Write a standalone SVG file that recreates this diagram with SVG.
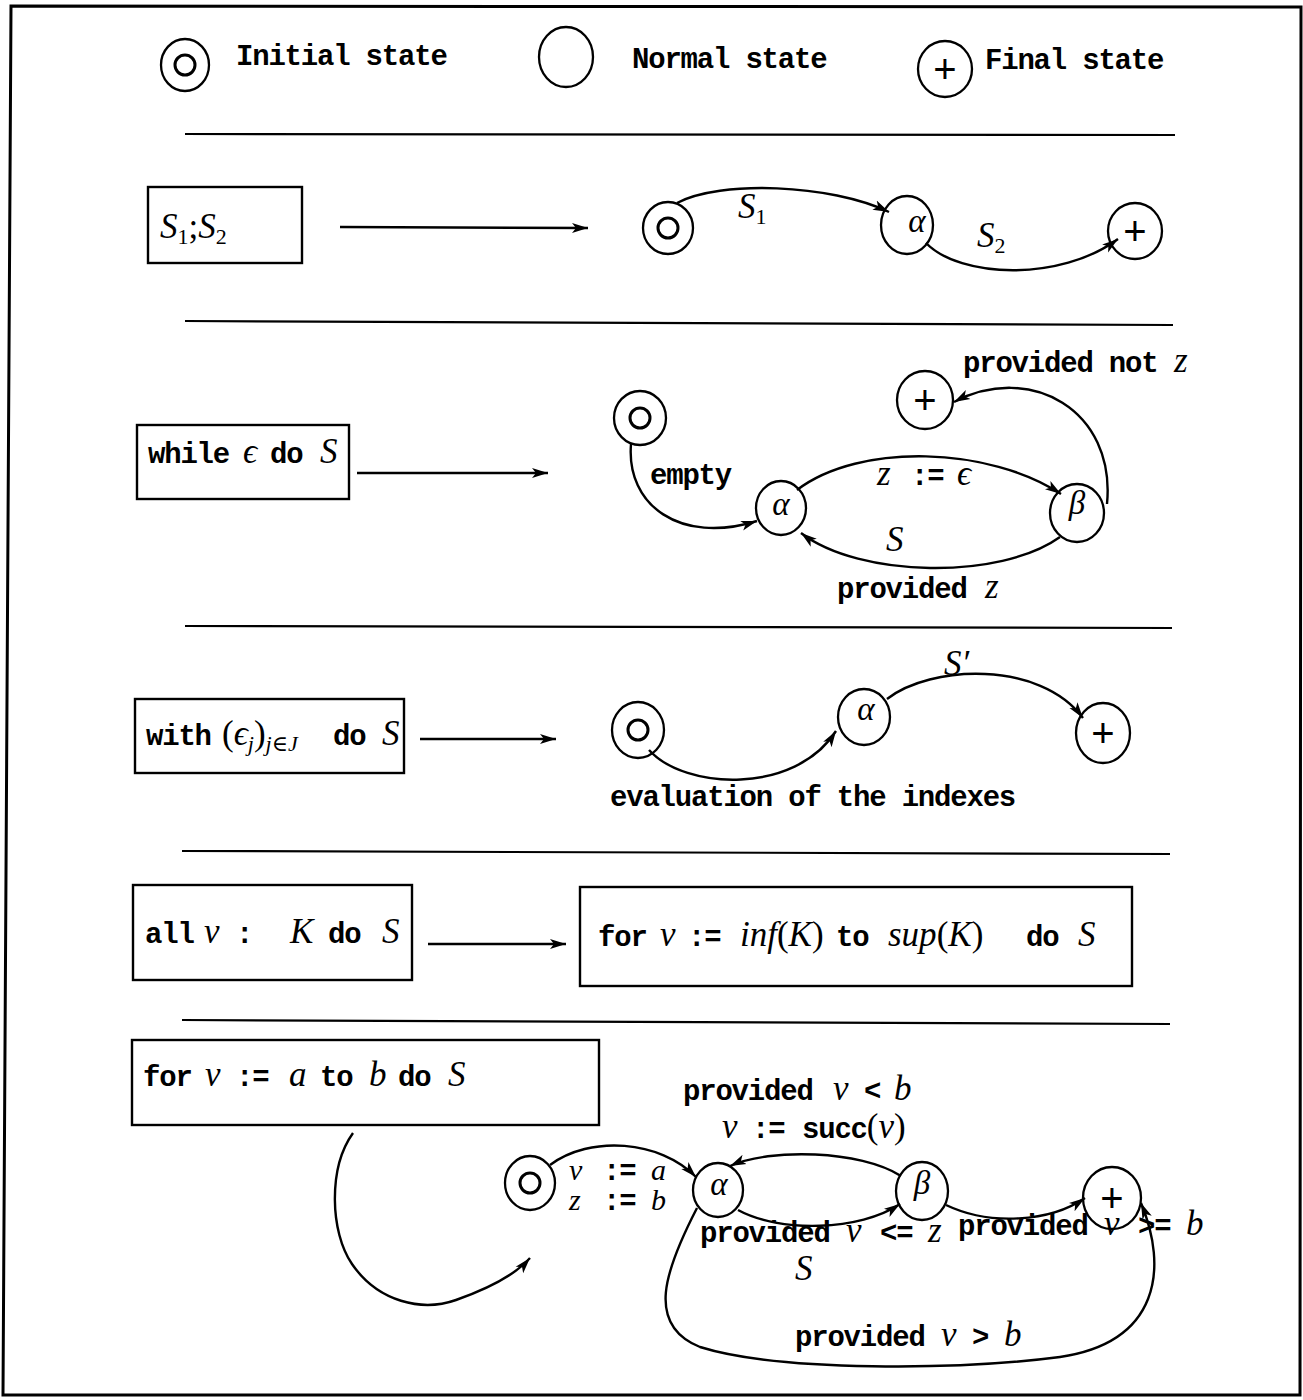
<svg xmlns="http://www.w3.org/2000/svg" width="1303" height="1400" viewBox="0 0 1303 1400">
  <defs>
    <marker id="arr" markerUnits="userSpaceOnUse" markerWidth="18" markerHeight="12" refX="16" refY="6" orient="auto">
      <path d="M0,1 L16,6 L0,11 L4,6 Z" fill="#000"/>
    </marker>
    <style>
      .frame { fill: none; stroke: #000; stroke-width: 3; }
      .sep { stroke: #000; stroke-width: 2.2; }
      .box { fill: none; stroke: #000; stroke-width: 2.4; }
      .st { fill: #fff; stroke: #000; stroke-width: 2.3; }
      .ring { fill: none; stroke: #000; stroke-width: 3; }
      .edge { fill: none; stroke: #000; stroke-width: 2.4; marker-end: url(#arr); }
      .tt { font-family: "Liberation Mono", "DejaVu Sans Mono", monospace; font-size: 29px; letter-spacing: -1.2px; font-weight: bold; fill: #000; }
      .mi { font-family: "Liberation Serif", "DejaVu Serif", serif; font-style: italic; font-weight: normal; font-size: 35px; letter-spacing: 0; }
      .rm { font-family: "Liberation Serif", "DejaVu Serif", serif; font-style: normal; font-weight: normal; font-size: 35px; letter-spacing: 0; }
      .sub { font-size: 22px; }
      .sm { font-size: 30px; }
      .sym { font-family: "Liberation Sans", "DejaVu Sans", sans-serif; font-size: 40px; text-anchor: middle; fill: #000; }
      .gr { font-family: "Liberation Serif", "DejaVu Serif", serif; font-style: italic; font-size: 33px; text-anchor: middle; fill: #000; }
    </style>
  </defs>

  <rect width="1303" height="1400" fill="#fff"/>

  <!-- outer frame -->
  <polygon class="frame" points="11,6 1301,7 1300,1395 3,1395"/>

  <!-- section rules -->
  <g id="rules">
    <line class="sep" x1="185" y1="134" x2="1175" y2="135"/>
    <line class="sep" x1="185" y1="321" x2="1173" y2="325"/>
    <line class="sep" x1="185" y1="626" x2="1172" y2="628"/>
    <line class="sep" x1="182" y1="851" x2="1170" y2="854"/>
    <line class="sep" x1="182" y1="1020" x2="1170" y2="1024"/>
  </g>

  <!-- legend -->
  <g id="legend-initial">
    <ellipse class="st" cx="185" cy="65" rx="24" ry="26"/>
    <circle class="ring" cx="185" cy="65" r="10"/>
    <text class="tt" x="236" y="65">Initial state</text>
  </g>
  <g id="legend-normal">
    <ellipse class="st" cx="566" cy="57" rx="27" ry="30"/>
    <text class="tt" x="632" y="68">Normal state</text>
  </g>
  <g id="legend-final">
    <ellipse class="st" cx="945" cy="69" rx="27" ry="28"/>
    <text class="sym" x="945" y="83">+</text>
    <text class="tt" x="985" y="69">Final state</text>
  </g>

  <!-- ===== row 1: sequence ===== -->
  <g id="r1-box">
    <rect class="box" x="148" y="187" width="154" height="76"/>
    <text class="mi" x="160" y="238">S<tspan class="rm sub" dy="6">1</tspan><tspan class="rm" dy="-6">;</tspan>S<tspan class="rm sub" dy="6">2</tspan></text>
  </g>
  <g id="r1-init">
    <ellipse class="st" cx="668" cy="228" rx="25" ry="26"/>
    <circle class="ring" cx="668" cy="228" r="10"/>
  </g>
  <g id="r1-alpha">
    <ellipse class="st" cx="907" cy="225" rx="26" ry="29"/>
    <text class="gr" x="917" y="232">α</text>
  </g>
  <g id="r1-final">
    <ellipse class="st" cx="1135" cy="231" rx="27" ry="28"/>
    <text class="sym" x="1135" y="245">+</text>
  </g>

  <!-- ===== row 2: while ===== -->
  <g id="r2-box">
    <rect class="box" x="137" y="425" width="212" height="74"/>
    <text class="tt" x="148" y="463">while<tspan class="mi" x="243">ϵ</tspan><tspan x="270">do</tspan><tspan class="mi" x="320">S</tspan></text>
  </g>
  <g id="r2-init">
    <ellipse class="st" cx="640" cy="418" rx="26" ry="27"/>
    <circle class="ring" cx="640" cy="418" r="10"/>
  </g>
  <g id="r2-alpha">
    <ellipse class="st" cx="781" cy="508" rx="25" ry="27"/>
    <text class="gr" x="781" y="515">α</text>
  </g>
  <g id="r2-beta">
    <ellipse class="st" cx="1077" cy="513" rx="27" ry="29"/>
    <text class="gr" x="1077" y="514">β</text>
  </g>
  <g id="r2-final">
    <ellipse class="st" cx="925" cy="400" rx="28" ry="29"/>
    <text class="sym" x="925" y="414">+</text>
  </g>

  <!-- ===== row 3: with ===== -->
  <g id="r3-box">
    <rect class="box" x="135" y="699" width="269" height="74"/>
    <text class="tt" x="146" y="745">with<tspan class="rm" x="222">(</tspan><tspan class="mi">ϵ</tspan><tspan class="mi sub" dy="6">j</tspan><tspan class="rm" dy="-6">)</tspan><tspan class="mi sub" dy="6">j</tspan><tspan class="rm sub">∈</tspan><tspan class="mi sub">J</tspan><tspan x="333" dy="-6">do</tspan><tspan class="mi" x="382">S</tspan></text>
  </g>
  <g id="r3-init">
    <ellipse class="st" cx="638" cy="730" rx="26" ry="28"/>
    <circle class="ring" cx="638" cy="730" r="10"/>
  </g>
  <g id="r3-alpha">
    <ellipse class="st" cx="864" cy="717" rx="26" ry="28"/>
    <text class="gr" x="866" y="720">α</text>
  </g>
  <g id="r3-final">
    <ellipse class="st" cx="1103" cy="733" rx="27" ry="30"/>
    <text class="sym" x="1103" y="747">+</text>
  </g>

  <!-- ===== row 4: all ===== -->
  <g id="r4-box">
    <rect class="box" x="133" y="885" width="279" height="95"/>
    <text class="tt" x="145" y="943">all<tspan class="mi" x="204">v</tspan><tspan x="236">:</tspan><tspan class="mi" x="290">K</tspan><tspan x="328">do</tspan><tspan class="mi" x="382">S</tspan></text>
  </g>
  <g id="r4-target">
    <rect class="box" x="580" y="887" width="552" height="99"/>
    <text class="tt" x="598" y="946">for<tspan class="mi" x="660">v</tspan><tspan x="688">:=</tspan><tspan class="mi" x="740">inf</tspan><tspan class="rm">(</tspan><tspan class="mi">K</tspan><tspan class="rm">)</tspan><tspan x="836">to</tspan><tspan class="mi" x="888">sup</tspan><tspan class="rm">(</tspan><tspan class="mi">K</tspan><tspan class="rm">)</tspan><tspan x="1026">do</tspan><tspan class="mi" x="1078">S</tspan></text>
  </g>

  <!-- ===== row 5: for ===== -->
  <g id="r5-box">
    <rect class="box" x="132" y="1040" width="467" height="85"/>
    <text class="tt" x="143" y="1086">for<tspan class="mi" x="205">v</tspan><tspan x="236">:=</tspan><tspan class="mi" x="289">a</tspan><tspan x="320">to</tspan><tspan class="mi" x="369">b</tspan><tspan x="398">do</tspan><tspan class="mi" x="448">S</tspan></text>
  </g>
  <g id="r5-init">
    <ellipse class="st" cx="530" cy="1183" rx="25" ry="27"/>
    <circle class="ring" cx="530" cy="1183" r="10"/>
  </g>
  <g id="r5-alpha">
    <ellipse class="st" cx="718" cy="1190" rx="25" ry="27"/>
    <text class="gr" x="719" y="1195">α</text>
  </g>
  <g id="r5-beta">
    <ellipse class="st" cx="922" cy="1191" rx="26" ry="29"/>
    <text class="gr" x="922" y="1194">β</text>
  </g>
  <g id="r5-final">
    <ellipse class="st" cx="1112" cy="1198" rx="29" ry="31"/>
    <text class="sym" x="1112" y="1212">+</text>
  </g>

  <!-- ===== connectors ===== -->
  <g id="connectors">
    <!-- row 1 -->
    <path class="edge" d="M340,227 L588,228"/>
    <path class="edge" d="M677,203 C720,180 830,184 889,212"/>
    <path class="edge" d="M926,243 C960,278 1060,282 1118,239"/>
    <!-- row 2 -->
    <path class="edge" d="M357,473 L548,473"/>
    <path class="edge" d="M631,444 C626,505 680,545 757,521"/>
    <path class="edge" d="M797,490 C860,442 990,447 1061,494"/>
    <path class="edge" d="M1060,537 C1000,580 860,578 801,533"/>
    <path class="edge" d="M1107,504 C1116,410 1030,362 954,402"/>
    <!-- row 3 -->
    <path class="edge" d="M420,739 L556,739"/>
    <path class="edge" d="M649,750 C685,790 795,795 836,731"/>
    <path class="edge" d="M887,699 C930,665 1040,660 1083,718"/>
    <!-- row 4 -->
    <path class="edge" d="M428,944 L566,944"/>
    <!-- row 5 -->
    <path class="edge" d="M353,1133 C328,1168 330,1232 352,1264 C378,1302 422,1312 456,1300 C490,1288 515,1275 530,1258"/>
    <path class="edge" d="M550,1165 C590,1135 660,1140 696,1177"/>
    <path class="edge" d="M901,1176 C860,1150 770,1148 730,1166"/>
    <path class="edge" d="M738,1210 C780,1233 860,1231 900,1204"/>
    <path class="edge" d="M946,1205 C990,1226 1050,1222 1085,1198"/>
    <path class="edge" d="M697,1208 C665,1270 645,1325 700,1347 C780,1372 960,1370 1060,1357 C1160,1342 1168,1268 1141,1203"/>
  </g>

  <!-- ===== edge labels ===== -->
  <g id="labels">
    <text class="mi" x="738" y="218">S<tspan class="rm sub" dy="6">1</tspan></text>
    <text class="mi" x="977" y="247">S<tspan class="rm sub" dy="6">2</tspan></text>

    <text class="tt" x="650" y="484">empty</text>
    <text class="tt" x="877" y="485"><tspan class="mi">z</tspan><tspan x="911">:=</tspan><tspan class="mi" x="957">ϵ</tspan></text>
    <text class="mi" x="886" y="551">S</text>
    <text class="tt" x="837" y="598">provided<tspan class="mi" x="985">z</tspan></text>
    <text class="tt" x="963" y="372">provided not<tspan class="mi" x="1174">z</tspan></text>

    <text class="mi" x="944" y="675">S′</text>
    <text class="tt" x="610" y="806">evaluation of the indexes</text>

    <text class="tt" x="569" y="1180"><tspan class="mi sm">v</tspan><tspan x="603">:=</tspan><tspan class="mi sm" x="651">a</tspan></text>
    <text class="tt" x="569" y="1210"><tspan class="mi sm">z</tspan><tspan x="603">:=</tspan><tspan class="mi sm" x="651">b</tspan></text>
    <text class="tt" x="683" y="1100">provided<tspan class="mi" x="833">v</tspan><tspan x="864">&lt;</tspan><tspan class="mi" x="894">b</tspan></text>
    <text class="tt" x="722" y="1138"><tspan class="mi">v</tspan><tspan x="752">:=</tspan><tspan x="802">succ</tspan><tspan class="rm">(</tspan><tspan class="mi">v</tspan><tspan class="rm">)</tspan></text>
    <text class="tt" x="700" y="1242">provided<tspan class="mi" x="846">v</tspan><tspan x="880">&lt;=</tspan><tspan class="mi" x="928">z</tspan></text>
    <text class="mi" x="795" y="1280">S</text>
    <text class="tt" x="958" y="1235">provided<tspan class="mi" x="1104">v</tspan><tspan x="1138">&gt;=</tspan><tspan class="mi" x="1186">b</tspan></text>
    <text class="tt" x="795" y="1346">provided<tspan class="mi" x="941">v</tspan><tspan x="972">&gt;</tspan><tspan class="mi" x="1004">b</tspan></text>
  </g>
</svg>
